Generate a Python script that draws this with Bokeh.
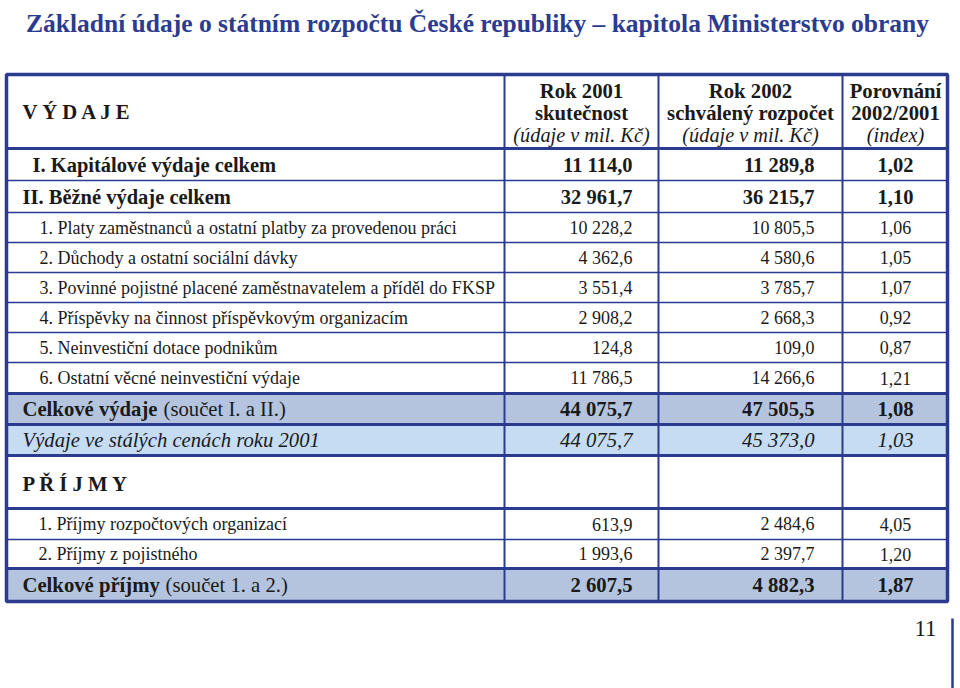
from bokeh.plotting import figure
from bokeh.models import Range1d
from bokeh.core.properties import value
from bokeh.embed import file_html
from bokeh.resources import INLINE

# ---------------- data ----------------
title = "Základní údaje o státním rozpočtu České republiky – kapitola Ministerstvo obrany"
section_expenses = "V Ý D A J E"
col_headers = [
    ["Rok 2001", "skutečnost", "(údaje v mil. Kč)"],
    ["Rok 2002", "schválený rozpočet", "(údaje v mil. Kč)"],
    ["Porovnání", "2002/2001", "(index)"],
]
row_labels = [
    "I. Kapitálové výdaje celkem",
    "II. Běžné výdaje celkem",
    "1. Platy zaměstnanců a ostatní platby za provedenou práci",
    "2. Důchody a ostatní sociální dávky",
    "3. Povinné pojistné placené zaměstnavatelem a příděl do FKSP",
    "4. Příspěvky na činnost příspěvkovým organizacím",
    "5. Neinvestiční dotace podnikům",
    "6. Ostatní věcné neinvestiční výdaje",
    "Celkové výdaje",
    "Výdaje ve stálých cenách roku 2001",
    "P Ř Í J M Y",
    "1. Příjmy rozpočtových organizací",
    "2. Příjmy z pojistného",
    "Celkové příjmy",
]
row_label_suffix = ["", "", "", "", "", "", "", "", "(součet I. a II.)", "", "", "", "", "(součet 1. a 2.)"]
rok_2001 = [11114.0, 32961.7, 10228.2, 4362.6, 3551.4, 2908.2, 124.8, 11786.5,
            44075.7, 44075.7, None, 613.9, 1993.6, 2607.5]
rok_2002 = [11289.8, 36215.7, 10805.5, 4580.6, 3785.7, 2668.3, 109.0, 14266.6,
            47505.5, 45373.0, None, 2484.6, 2397.7, 4882.3]
index_2002_2001 = [1.02, 1.10, 1.06, 1.05, 1.07, 0.92, 0.87, 1.21,
                   1.08, 1.03, None, 4.05, 1.20, 1.87]
page_number = "11"

# ---------------- layout / style ----------------
row_kind = ["bold", "bold", "sub", "sub", "sub", "sub", "sub", "sub",
            "total", "real", "section", "sub", "sub", "total"]
row_heights = [32, 32, 30, 30, 30, 30, 30, 31, 31, 31, 53, 31, 29, 33]
row_indent = [32, 22, 39, 39, 39, 39, 39, 39, 22, 22, 22, 38, 38, 22]
thick_below = [False, False, False, False, False, False, False, True,
               True, True, True, False, True, True]
suffix_x = [0, 0, 0, 0, 0, 0, 0, 0, 163, 0, 0, 0, 0, 165]

NAVY = "#2B3B8F"
FILL_TOTAL = "#B4C4DE"
FILL_REAL = "#C6DCF3"
TXT = "#1A1A1A"
FONT = value("Liberation Serif")

T_LEFT, T_RIGHT = 6, 947
T_TOP, HEAD_BOTTOM = 74, 148
col_lines = [504, 658, 842]
num_right = [632, 814]
idx_center = 895
head_centers = [581, 750, 895]

kind_style = {
    "bold": ("bold", "20.5px"),
    "sub": ("normal", "18px"),
    "total": ("bold", "20.7px"),
    "real": ("italic", "20.7px"),
    "section": ("bold", "20.7px"),
}


def fmt(v, d=1):
    if v is None:
        return ""
    s = f"{v:,.{d}f}"
    return s.replace(",", " ").replace(".", ",")


# row edges
edges = [HEAD_BOTTOM]
for h in row_heights:
    edges.append(edges[-1] + h)
T_BOTTOM = edges[-1]

p = figure(width=960, height=688, output_backend="svg", toolbar_location=None,
           x_range=Range1d(0, 960), y_range=Range1d(688, 0),
           min_border=0, outline_line_color=None)
p.axis.visible = False
p.grid.visible = False
p.background_fill_color = "white"
p.border_fill_color = "white"

# title
p.text(x=[477], y=[23], text=[title], text_font=FONT, text_font_style="bold",
       text_font_size="25.5px", text_color=NAVY, text_align="center", text_baseline="middle")

# row fills
fills = {"total": FILL_TOTAL, "real": FILL_REAL}
fl, fr, ft, fb, fc = [], [], [], [], []
for i, k in enumerate(row_kind):
    if k in fills:
        fl.append(T_LEFT); fr.append(T_RIGHT); ft.append(edges[i]); fb.append(edges[i + 1]); fc.append(fills[k])
p.quad(left=fl, right=fr, top=ft, bottom=fb, fill_color=fc, line_color=None)

# horizontal lines
thin_y = [edges[i + 1] for i in range(len(row_kind) - 1) if not thick_below[i]]
thick_y = [HEAD_BOTTOM] + [edges[i + 1] for i in range(len(row_kind) - 1) if thick_below[i]]
p.segment(x0=[T_LEFT] * len(thin_y), x1=[T_RIGHT] * len(thin_y), y0=thin_y, y1=thin_y,
          line_color=NAVY, line_width=1.6)
p.segment(x0=[T_LEFT] * len(thick_y), x1=[T_RIGHT] * len(thick_y), y0=thick_y, y1=thick_y,
          line_color=NAVY, line_width=3)
# vertical column lines
p.segment(x0=col_lines, x1=col_lines, y0=[T_TOP] * 3, y1=[T_BOTTOM] * 3,
          line_color=NAVY, line_width=2)
# outer border
p.quad(left=[T_LEFT], right=[T_RIGHT], top=[T_TOP], bottom=[T_BOTTOM],
       fill_color=None, line_color=NAVY, line_width=3.5)

# header texts
p.text(x=[22], y=[111], text=[section_expenses], text_font=FONT, text_font_style="bold",
       text_font_size="20.7px", text_color=TXT, text_align="left", text_baseline="middle")
hy = [90, 112, 134]
for c, lines in enumerate(col_headers):
    p.text(x=[head_centers[c]] * 2, y=hy[:2], text=lines[:2], text_font=FONT,
           text_font_style="bold", text_font_size="20.7px", text_color=TXT,
           text_align="center", text_baseline="middle")
    p.text(x=[head_centers[c]], y=[hy[2]], text=[lines[2]], text_font=FONT,
           text_font_style="italic", text_font_size="20.3px", text_color=TXT,
           text_align="center", text_baseline="middle")

# body rows
for i, k in enumerate(row_kind):
    style, size = kind_style[k]
    yc = (edges[i] + edges[i + 1]) / 2 + (2 if k == "section" else 0)
    p.text(x=[row_indent[i]], y=[yc], text=[row_labels[i]], text_font=FONT,
           text_font_style=style, text_font_size=size, text_color=TXT,
           text_align="left", text_baseline="middle")
    if row_label_suffix[i]:
        p.text(x=[suffix_x[i]], y=[yc], text=[row_label_suffix[i]], text_font=FONT,
               text_font_style="normal", text_font_size=size, text_color=TXT,
               text_align="left", text_baseline="middle")
    if rok_2001[i] is not None:
        p.text(x=num_right, y=[yc, yc], text=[fmt(rok_2001[i]), fmt(rok_2002[i])],
               text_font=FONT, text_font_style=style, text_font_size=size, text_color=TXT,
               text_align="right", text_baseline="middle")
        p.text(x=[idx_center], y=[yc], text=[fmt(index_2002_2001[i], 2)],
               text_font=FONT, text_font_style=style, text_font_size=size, text_color=TXT,
               text_align="center", text_baseline="middle")

# page number and rule
p.text(x=[925], y=[628], text=[page_number], text_font=FONT, text_font_size="23px",
       text_color=TXT, text_align="center", text_baseline="middle")
p.segment(x0=[952], x1=[952], y0=[618], y1=[690], line_color=NAVY, line_width=2.5)

open("out.html", "w").write(file_html(p, INLINE))
